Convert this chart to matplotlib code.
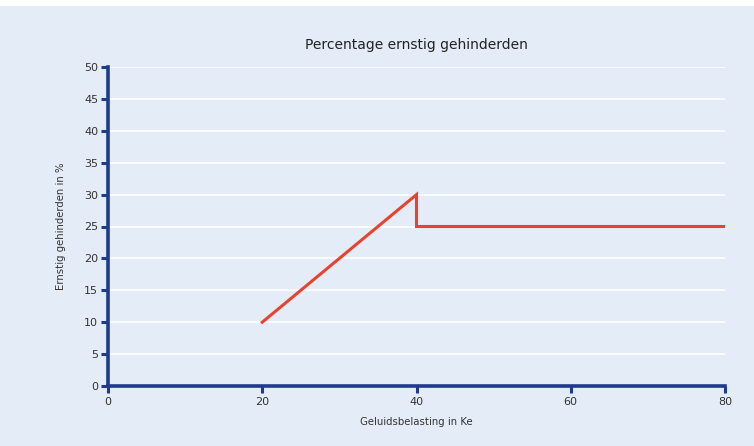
import matplotlib
matplotlib.use("Agg")
import matplotlib.pyplot as plt
from matplotlib.patches import Rectangle

# data
geluid = [20, 40, 40, 80]
gehinderd = [10, 30, 25, 25]
xticks = [0, 20, 40, 60, 80]
yticks = list(range(0, 55, 5))

bg = "#e4ecf7"
navy = "#1f3a8f"
rood = "#e8432f"

plt.rcParams['font.family'] = ['DejaVu Sans']

fig = plt.figure(figsize=(7.54, 4.46), dpi=100)
fig.patch.set_facecolor(bg)
# witte rand bovenaan
fig.patches.append(Rectangle((0, 1 - 6 / 446), 1, 6 / 446, transform=fig.transFigure,
                             facecolor="white", edgecolor="none", zorder=0))

ax = fig.add_axes([108 / 754, 1 - 386 / 446, 617 / 754, 319 / 446])
ax.set_facecolor(bg)

ax.plot(geluid, gehinderd, color=rood, lw=2.2, solid_joinstyle='miter', zorder=3)

ax.set_xlim(0, 80)
ax.set_ylim(0, 50)
ax.set_xticks(xticks)
ax.set_yticks(yticks)
ax.yaxis.grid(True, color="white", lw=1.2)
ax.set_axisbelow(True)

for s in ["top", "right"]:
    ax.spines[s].set_visible(False)
for s in ["left", "bottom"]:
    ax.spines[s].set_color(navy)
    ax.spines[s].set_linewidth(2.6)
ax.tick_params(axis="both", colors=navy, width=2.2, length=5, labelsize=8,
               labelcolor="#333333")
ax.tick_params(axis="x", pad=3)
ax.tick_params(axis="y", pad=2)

ax.set_title("Percentage ernstig gehinderden", fontsize=10, color="#222222", pad=13)
ax.set_xlabel("Geluidsbelasting in Ke", fontsize=7.3, color="#333333", labelpad=7)
ax.set_ylabel("Ernstig gehinderden in %", fontsize=7.3, color="#333333", labelpad=13)

fig.savefig("out.png", dpi=100, facecolor=fig.get_facecolor())
